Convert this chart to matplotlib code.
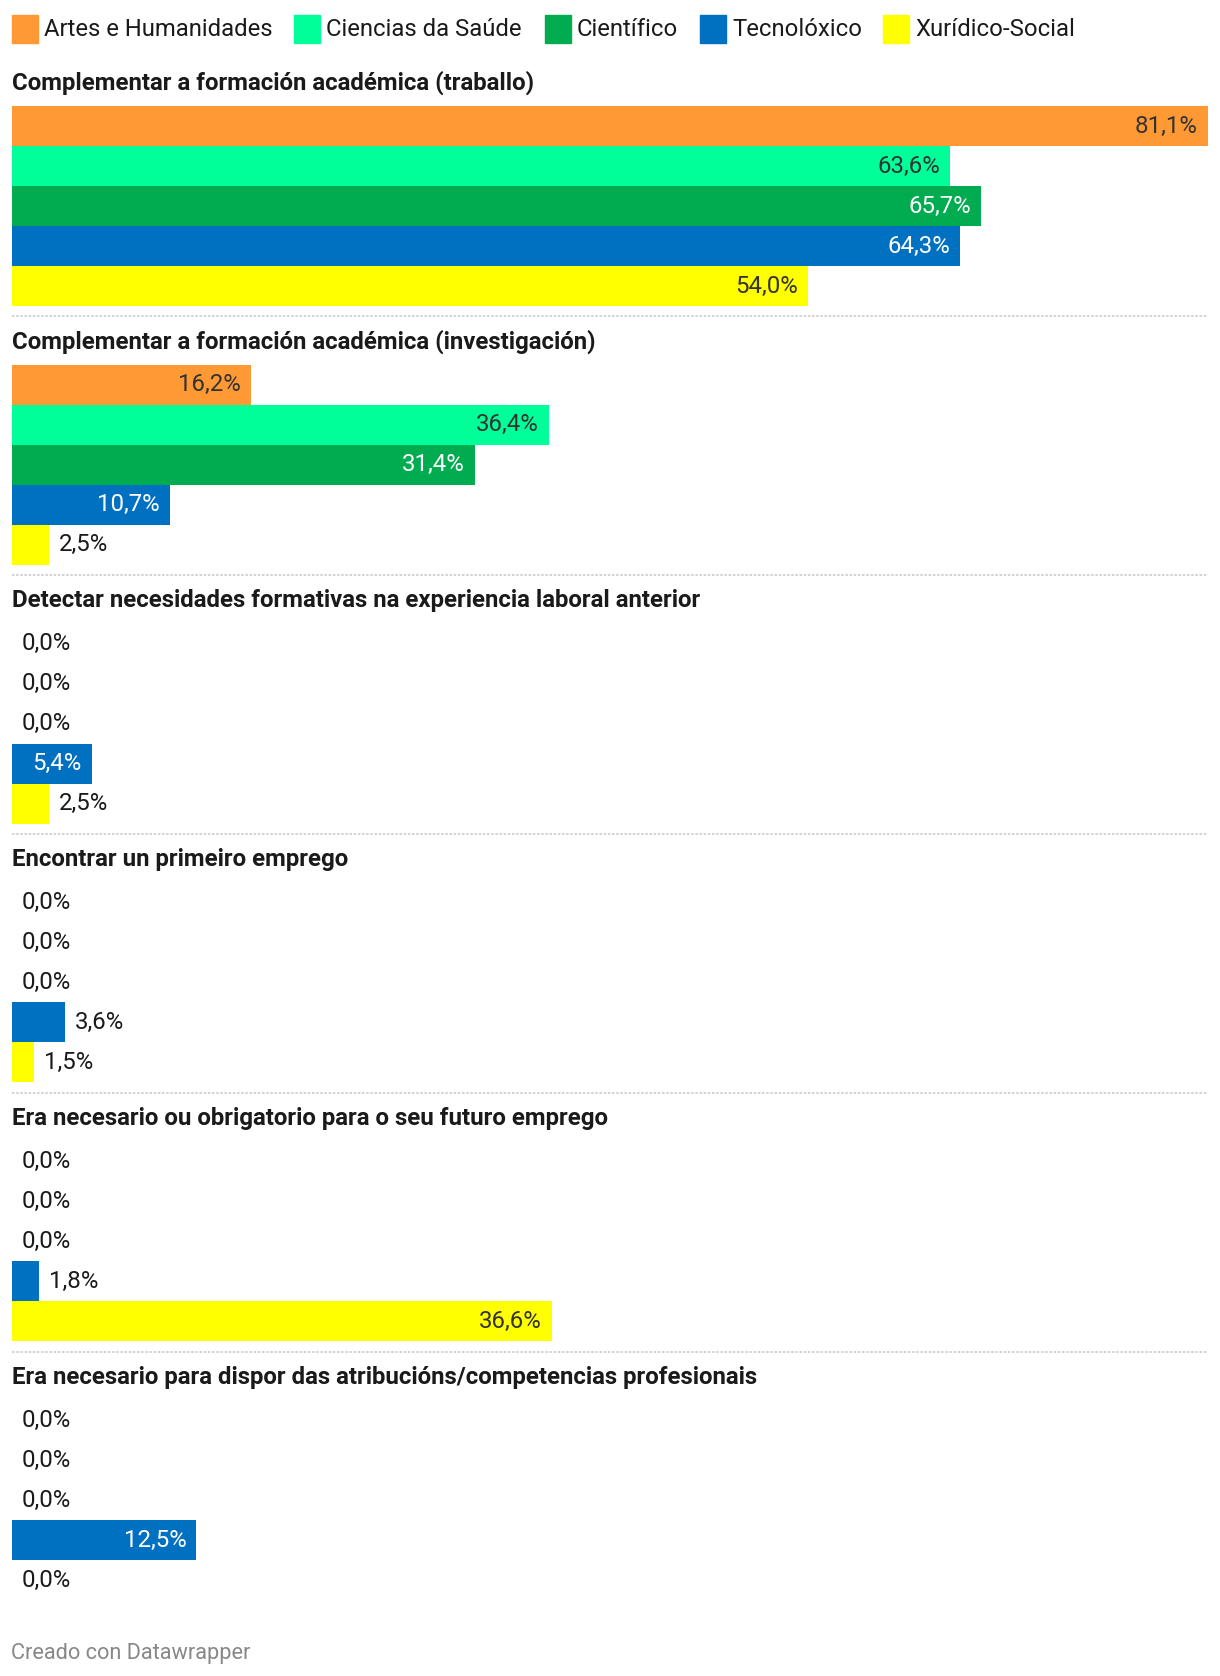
import matplotlib
matplotlib.use('Agg')
import matplotlib.pyplot as plt
from matplotlib.patches import Rectangle
from matplotlib.lines import Line2D

plt.rcParams['font.family'] = ['Roboto', 'DejaVu Sans']

# data
categories = [
    'Complementar a formación académica (traballo)',
    'Complementar a formación académica (investigación)',
    'Detectar necesidades formativas na experiencia laboral anterior',
    'Encontrar un primeiro emprego',
    'Era necesario ou obrigatorio para o seu futuro emprego',
    'Era necesario para dispor das atribucións/competencias profesionais',
]
series_names = ['Artes e Humanidades', 'Ciencias da Saúde', 'Científico',
                'Tecnolóxico', 'Xurídico-Social']
artes = [81.1, 16.2, 0.0, 0.0, 0.0, 0.0]
saude = [63.6, 36.4, 0.0, 0.0, 0.0, 0.0]
cientifico = [65.7, 31.4, 0.0, 0.0, 0.0, 0.0]
tecnoloxico = [64.3, 10.7, 5.4, 3.6, 1.8, 12.5]
xuridico = [54.0, 2.5, 2.5, 1.5, 36.6, 0.0]

colors = ['#ff9933', '#00ff99', '#00ac4f', '#0070c0', '#ffff00']
label_colors = ['#333333', '#333333', '#ffffff', '#ffffff', '#333333']
series_values = [artes, saude, cientifico, tecnoloxico, xuridico]


def fmt(v):
    return f'{v:.1f}'.replace('.', ',') + '%'


def main():
    W, H = 1220, 1676
    fig = plt.figure(figsize=(W / 100, H / 100), dpi=100)

    left_px, right_px = 12, 1208
    bar_h = 40
    first_top = 106
    step = 258.8
    xmax = max(max(s) for s in series_values)
    px_per_unit = (right_px - left_px) / xmax

    # legend
    legend_x = [12, 294, 545, 700, 883]
    for name, c, lx in zip(series_names, colors, legend_x):
        fig.patches.append(Rectangle((lx / W, 1 - 43 / H), 26 / W, 28 / H,
                                     transform=fig.transFigure, color=c))
        fig.text((lx + 32) / W, 1 - 29 / H, name, fontsize=17.2, va='center',
                 color='#1a1a1a')

    for i, cat in enumerate(categories):
        top = first_top + i * step
        ax = fig.add_axes([left_px / W, 1 - (top + 5 * bar_h) / H,
                           (right_px - left_px) / W, 5 * bar_h / H])
        vals = [s[i] for s in series_values]
        ax.barh(range(5), vals, height=1.0, color=colors)
        ax.set_xlim(0, xmax)
        ax.set_ylim(4.5, -0.5)
        ax.axis('off')

        fig.text(left_px / W, 1 - (top - 23) / H, cat, fontsize=17.3,
                 fontweight='bold', va='center', color='#1a1a1a')

        for j, v in enumerate(vals):
            if v * px_per_unit > 75:
                ax.annotate(fmt(v), (v, j), xytext=(-10, 0),
                            textcoords='offset pixels', ha='right',
                            va='center', fontsize=17.3, color=label_colors[j])
            else:
                ax.annotate(fmt(v), (v, j), xytext=(10, 0),
                            textcoords='offset pixels', ha='left',
                            va='center', fontsize=17.3, color='#1a1a1a')

        if i < len(categories) - 1:
            y = 1 - (top + 5 * bar_h + 10.5) / H
            fig.lines.append(Line2D([left_px / W, right_px / W], [y, y],
                                    transform=fig.transFigure,
                                    color='#cccccc', linewidth=1.2,
                                    linestyle=(0, (1.5, 1))))

    fig.text(11 / W, 1 - 1653 / H, 'Creado con Datawrapper', fontsize=15.7,
             va='center', color='#888888')

    fig.savefig('out.png', dpi=100)


if __name__ == '__main__':
    main()
